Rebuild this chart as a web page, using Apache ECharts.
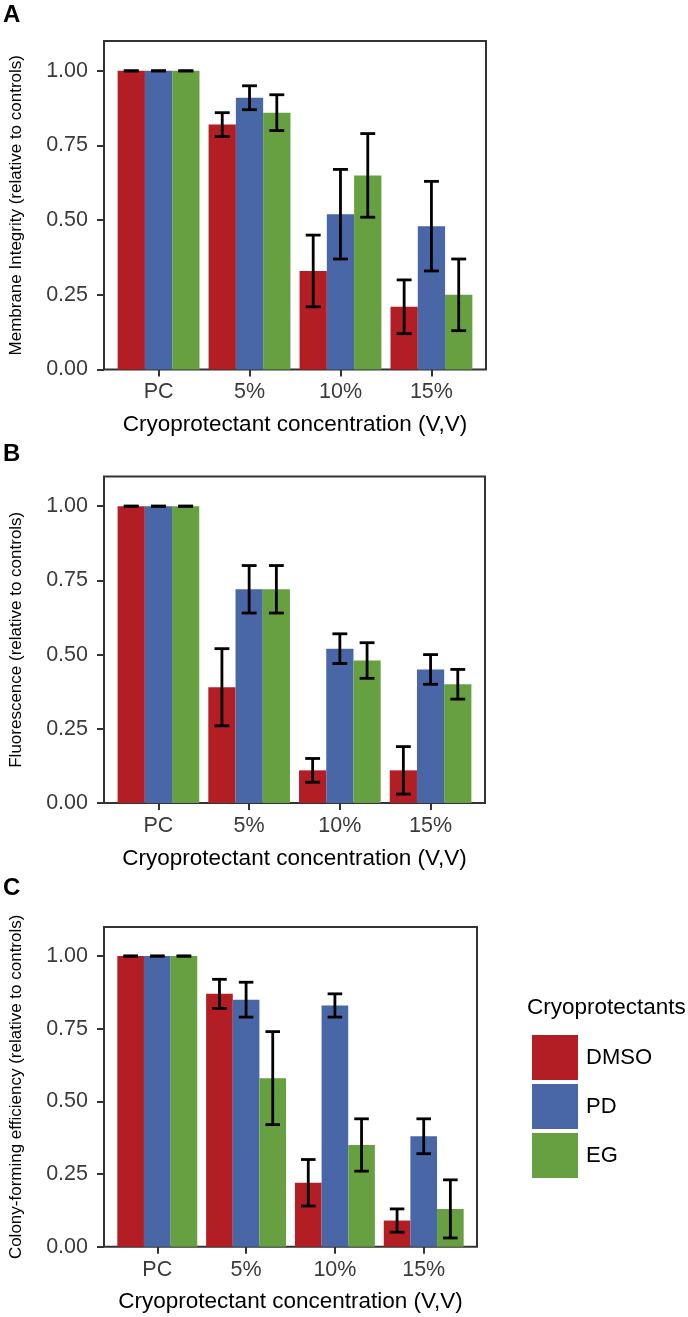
<!DOCTYPE html>
<html>
<head>
<meta charset="utf-8">
<script src="https://cdn.jsdelivr.net/npm/echarts@6/dist/echarts.min.js"></script>
<style>
html,body{margin:0;padding:0;background:#fff;}
#chart{width:688px;height:1317px;}
</style>
</head>
<body>
<div id="chart"></div>
<script>
// ---------------- DATA ----------------
const categories = ['PC', '5%', '10%', '15%'];
const groups = ['DMSO', 'PD', 'EG'];
const yTicks = [0, 0.25, 0.5, 0.75, 1.0];

// Panel A: Membrane integrity
const membraneDMSO = [1.00, 0.82, 0.33, 0.21];
const membraneDMSOErr = [0, 0.04, 0.12, 0.09];
const membranePD = [1.00, 0.91, 0.52, 0.48];
const membranePDErr = [0, 0.04, 0.15, 0.15];
const membraneEG = [1.00, 0.86, 0.65, 0.25];
const membraneEGErr = [0, 0.06, 0.14, 0.12];

// Panel B: Fluorescence
const fluorDMSO = [1.00, 0.39, 0.11, 0.11];
const fluorDMSOErr = [0, 0.13, 0.04, 0.08];
const fluorPD = [1.00, 0.72, 0.52, 0.45];
const fluorPDErr = [0, 0.08, 0.05, 0.05];
const fluorEG = [1.00, 0.72, 0.48, 0.40];
const fluorEGErr = [0, 0.08, 0.06, 0.05];

// Panel C: Colony-forming efficiency
const colonyDMSO = [1.00, 0.87, 0.22, 0.09];
const colonyDMSOErr = [0, 0.05, 0.08, 0.04];
const colonyPD = [1.00, 0.85, 0.83, 0.38];
const colonyPDErr = [0, 0.06, 0.04, 0.06];
const colonyEG = [1.00, 0.58, 0.35, 0.13];
const colonyEGErr = [0, 0.16, 0.09, 0.10];

// ---------------- STYLE / LAYOUT ----------------
const FONT = 'Liberation Sans, Arial, Helvetica, sans-serif';
const groupColors = ['#B21E24', '#4967A6', '#66A040'];
const BAR_W = 0.3;      // bar width in category units (dodge 0.9 / 3)
const CAP_HALF = 0.082; // error bar cap half width in category units

const panels = [
  { label: 'A', labelY: 15, yTitle: 'Membrane Integrity (relative to controls)',
    grid: { left: 98, top: 41, width: 388, height: 328.5 },
    means: [membraneDMSO, membranePD, membraneEG], errs: [membraneDMSOErr, membranePDErr, membraneEGErr] },
  { label: 'B', labelY: 454, yTitle: 'Fluorescence (relative to controls)',
    grid: { left: 99, top: 476.5, width: 386, height: 326.5 },
    means: [fluorDMSO, fluorPD, fluorEG], errs: [fluorDMSOErr, fluorPDErr, fluorEGErr] },
  { label: 'C', labelY: 888, yTitle: 'Colony-forming efficiency (relative to controls)',
    grid: { left: 99, top: 927, width: 378, height: 319.7 },
    means: [colonyDMSO, colonyPD, colonyEG], errs: [colonyDMSOErr, colonyPDErr, colonyEGErr] }
];

function barRender(gi) {
  return function (params, api) {
    const x = api.value(0) + (gi - 1) * BAR_W;
    const v = api.value(1);
    const w = api.size([1, 0])[0] * BAR_W;
    const top = api.coord([x, v]);
    const base = api.coord([x, 0]);
    return {
      type: 'rect',
      shape: { x: top[0] - w / 2, y: top[1], width: w, height: base[1] - top[1] },
      style: { fill: api.visual('color') }
    };
  };
}

function errRender(gi) {
  return function (params, api) {
    const x = api.value(0) + (gi - 1) * BAR_W;
    const v = api.value(1);
    const e = api.value(2);
    const half = api.size([1, 0])[0] * CAP_HALF;
    const hi = api.coord([x, v + e]);
    const lo = api.coord([x, v - e]);
    const st = { stroke: '#000', lineWidth: 2.8 };
    return {
      type: 'group',
      children: [
        { type: 'line', shape: { x1: hi[0], y1: hi[1], x2: lo[0], y2: lo[1] }, style: st },
        { type: 'line', shape: { x1: hi[0] - half, y1: hi[1], x2: hi[0] + half, y2: hi[1] }, style: st },
        { type: 'line', shape: { x1: lo[0] - half, y1: lo[1], x2: lo[0] + half, y2: lo[1] }, style: st }
      ]
    };
  };
}

const grids = [], xAxes = [], yAxes = [], series = [], graphics = [];

panels.forEach((p, pi) => {
  grids.push(Object.assign({ show: true, borderColor: '#333', borderWidth: 2, backgroundColor: '#fff' }, p.grid));
  xAxes.push({
    type: 'value', gridIndex: pi, min: 0.4, max: 4.6,
    splitLine: { show: false }, axisLine: { show: false },
    axisTick: { show: true, customValues: [1, 2, 3, 4], length: 7, lineStyle: { color: '#333', width: 2 } },
    axisLabel: { customValues: [1, 2, 3, 4], margin: 12, fontSize: 21.5, color: '#3a3a3a', fontFamily: FONT,
      formatter: v => categories[Math.round(v) - 1] },
    name: 'Cryoprotectant concentration (V,V)', nameLocation: 'middle', nameGap: 44,
    nameTextStyle: { fontSize: 22.5, color: '#000', fontFamily: FONT }
  });
  yAxes.push({
    type: 'value', gridIndex: pi, min: 0, max: 1.1,
    splitLine: { show: false }, axisLine: { show: false },
    axisTick: { show: true, customValues: yTicks, length: 7, lineStyle: { color: '#333', width: 2 } },
    axisLabel: { customValues: yTicks, margin: 16, fontSize: 21.5, color: '#3a3a3a', fontFamily: FONT,
      formatter: v => v.toFixed(2) },
    name: p.yTitle, nameLocation: 'middle', nameGap: 79,
    nameTextStyle: { fontSize: 17, color: '#000', fontFamily: FONT }
  });
  groups.forEach((g, gi) => {
    series.push({
      type: 'custom', name: g, xAxisIndex: pi, yAxisIndex: pi,
      itemStyle: { color: groupColors[gi] },
      renderItem: barRender(gi),
      encode: { x: 0, y: 1 },
      data: categories.map((c, ci) => [ci + 1, p.means[gi][ci], p.errs[gi][ci]]),
      z: 2
    });
  });
  groups.forEach((g, gi) => {
    series.push({
      type: 'custom', name: g + ' error', xAxisIndex: pi, yAxisIndex: pi,
      itemStyle: { color: '#000' },
      renderItem: errRender(gi),
      encode: { x: 0, y: 1 },
      data: categories.map((c, ci) => [ci + 1, p.means[gi][ci], p.errs[gi][ci]]),
      z: 3
    });
  });
  graphics.push({
    type: 'text', x: 3, y: p.labelY,
    style: { text: p.label, fontSize: 24, fontWeight: 'bold', fontFamily: FONT, fill: '#000', verticalAlign: 'middle' }
  });
});

graphics.push({
  type: 'text', x: 527, y: 1008,
  style: { text: 'Cryoprotectants', fontSize: 22.5, fontFamily: FONT, fill: '#000', verticalAlign: 'middle' }
});

const chart = echarts.init(document.getElementById('chart'), null, { renderer: 'canvas' });
chart.setOption({
  animation: false,
  backgroundColor: '#fff',
  grid: grids,
  xAxis: xAxes,
  yAxis: yAxes,
  legend: {
    data: groups, orient: 'vertical', left: 527, top: 1030,
    itemWidth: 46, itemHeight: 45, itemGap: 4, icon: 'rect', selectedMode: false,
    textStyle: { fontSize: 22, color: '#000', fontFamily: FONT, padding: [0, 0, 0, 3] }
  },
  graphic: graphics,
  series: series
});
</script>
</body>
</html>
